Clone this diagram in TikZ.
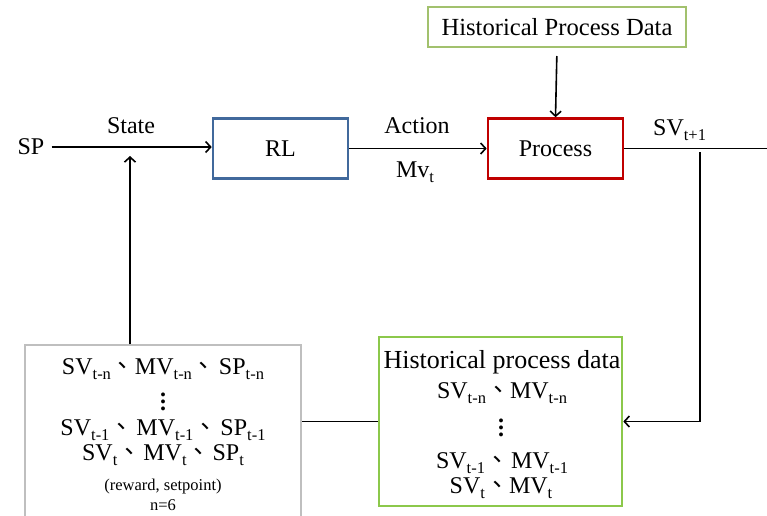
\documentclass[tikz,border=0pt]{standalone}
\usepackage{fontspec}
\setmainfont{Liberation Serif}
\newfontfamily\cjk{Noto Sans CJK TC}
\usetikzlibrary{arrows.meta}

% subscripts, the ideographic comma and a tall vertical ellipsis
\newcommand{\lo}[1]{\raisebox{-5pt}{\fontsize{16.5}{18}\selectfont #1}}
\newcommand{\dn}{{\cjk 、}}
\newcommand{\vdd}{\vbox{\baselineskip=7pt\lineskiplimit=-30pt
  \hbox{\bfseries .}\hbox{\bfseries .}\hbox{\bfseries .}}}

\definecolor{rlblue}{HTML}{41699C}
\definecolor{procred}{HTML}{C00000}
\definecolor{datagreen}{HTML}{A2C16D}
\definecolor{histgreen}{HTML}{8CC84B}
\definecolor{stategray}{HTML}{BFBFBF}

\tikzset{
  big/.style={font=\fontsize{24}{28}\selectfont},
  small/.style={font=\fontsize{16.5}{19}\selectfont},
  lbl/.style={big, inner sep=0pt, anchor=base},
  wire/.style={line width=1.6pt},
  arr/.style={wire, -{Straight Barb[length=5pt,width=11pt]}},
  blockbox/.style={big, minimum width=135, minimum height=60, inner sep=0pt, line width=2.6pt},
}

\begin{document}
\begin{tikzpicture}[x=1pt, y=-1pt]
\useasboundingbox (0,0) rectangle (767,515);

% main loop blocks
\node[blockbox, draw=rlblue] (rl) at (280.5,148.5) {RL};
\node[blockbox, draw=procred] (proc) at (555.5,148.5) {Process};
\node[draw=datagreen, line width=2pt, minimum width=258, minimum height=40, inner sep=0pt,
  font=\fontsize{24.6}{28}\selectfont] (hpd) at (557,27) {Historical Process Data};

% inputs and labels on the forward path
\node[big, inner sep=0pt] (sp) at (31,147) {SP};
\node[lbl] (state) at (131,133) {State};
\node[lbl] (action) at (417,133) {Action};
\node[lbl] (mv) at (415,177) {Mv\lo{t}};
\node[lbl, anchor=base west] (svout) at (653,135) {SV\lo{t+1}};

% state window box
\node[draw=stategray, line width=1.1pt, minimum width=276, minimum height=180, inner sep=0pt]
  (win) at (163,435) {};
\node[lbl] (w1) at (163,374) {SV\lo{t-n}\dn MV\lo{t-n}\dn\hspace{3pt}SP\lo{t-n}};
\node[big, inner sep=0pt] (w2) at (163,402) {\vdd};
\node[lbl] (w3) at (163,435) {SV\lo{t-1}\dn\hspace{3pt}MV\lo{t-1}\dn\hspace{3pt}SP\lo{t-1}};
\node[lbl] (w4) at (163,460) {SV\lo{t}\dn\hspace{2pt}MV\lo{t}\dn\hspace{2pt}SP\lo{t}};
\node[small, inner sep=0pt, anchor=base] (w5) at (163,490) {(reward, setpoint)};
\node[small, inner sep=0pt, anchor=base] (w6) at (163,510) {n=6};

% historical process data box
\node[draw=histgreen, line width=2.6pt, minimum width=243, minimum height=169, inner sep=0pt]
  (hist) at (500.5,421.5) {};
\node[lbl, font=\fontsize{26}{30}\selectfont] (h1) at (502,368) {Historical process data};
\node[lbl] (h2) at (502,398) {SV\lo{t-n}\dn MV\lo{t-n}};
\node[big, inner sep=0pt] (h3) at (501,428) {\vdd};
\node[lbl] (h4) at (502,468) {SV\lo{t-1}\dn\hspace{2pt}MV\lo{t-1}};
\node[lbl] (h5) at (501,493) {SV\lo{t}\dn MV\lo{t}};

% connectors
\coordinate (out) at (776,148);
\coordinate (tap) at (700,152);
\coordinate (stin) at (130,156);

\draw[arr] ([xshift=7pt]sp.east) -- (sp.east -| rl.west);
\draw[arr] (rl.east) -- (proc.west);
\draw[arr, shorten <=8pt] (hpd.south) -- (proc.north);
\draw[arr] (proc.east) -- (proc.east -| out);
\draw[arr] (tap) |- (hist.east);
\draw[wire] (hist.west) -- (hist.west -| win.east);
\draw[arr] (stin |- win.north) -- (stin);
\end{tikzpicture}
\end{document}
